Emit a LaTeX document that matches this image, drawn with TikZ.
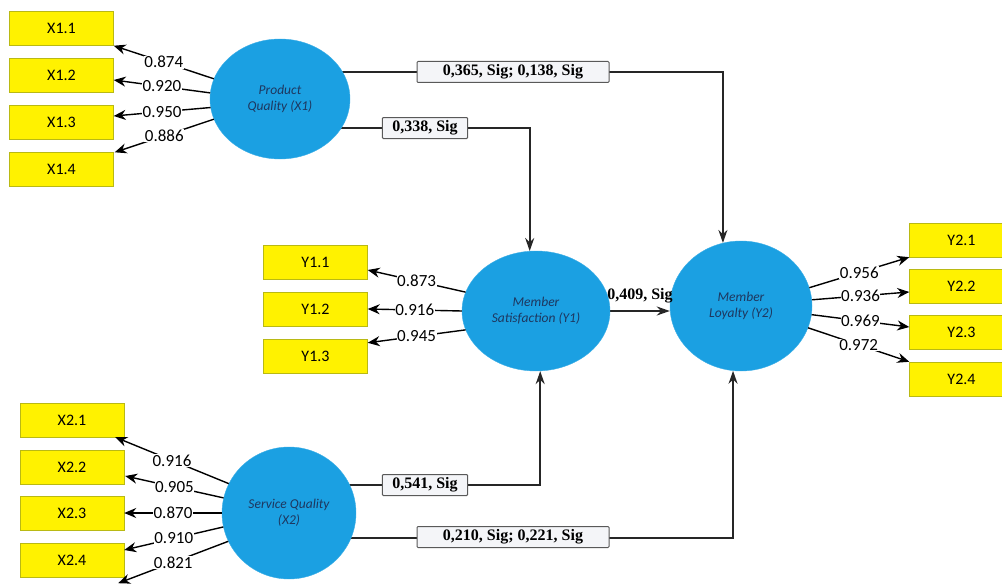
\documentclass[tikz,border=0pt]{standalone}
\usepackage{fontspec}
\setmainfont{Liberation Serif}
\newfontfamily\carl{Carlito}
\usetikzlibrary{arrows.meta,backgrounds,calc,shapes.geometric}
\definecolor{lvblue}{RGB}{27,160,226}
\definecolor{lvtext}{RGB}{30,55,95}
\definecolor{indborder}{RGB}{185,185,20}
\definecolor{pboxfill}{RGB}{244,245,248}
\tikzset{
  ind/.style={draw=indborder, fill=yellow, minimum width=104, minimum height=34, inner sep=0,
    font=\carl\fontsize{16}{16}\selectfont},
  lv/.style={ellipse, fill=lvblue, draw=lvblue!85!white, inner sep=0, align=center,
    text=lvtext, font=\carl\itshape\fontsize{13.5}{16}\selectfont},
  ld/.style={font=\carl\fontsize{17}{17}\selectfont, fill=white, inner sep=0.5pt},
  ldarrow/.style={-{Stealth[length=12pt,width=10pt]}, line width=1.4pt},
  pth/.style={line width=1.8pt, draw=black!85, -{Stealth[length=13pt,width=9pt]}},
  pbox/.style={draw=black!65, line width=1pt, fill=pboxfill, font=\bfseries\fontsize{16}{16}\selectfont,
    minimum height=21, inner xsep=10pt, inner ysep=0pt, rounded corners=1pt},
}
\begin{document}
\begin{tikzpicture}[x=1pt,y=-1pt]
\useasboundingbox (0,0) rectangle (1002,586);

% indicator boxes
\node[ind] (x11) at (61.5,28.5) {X1.1};
\node[ind] (x12) at (61.5,75.5) {X1.2};
\node[ind] (x13) at (61.5,122.5) {X1.3};
\node[ind] (x14) at (61.5,169.5) {X1.4};
\node[ind] (y11) at (315.5,262) {Y1.1};
\node[ind] (y12) at (315.5,309) {Y1.2};
\node[ind] (y13) at (315.5,356) {Y1.3};
\node[ind] (y21) at (961.5,240) {Y2.1};
\node[ind] (y22) at (961.5,286) {Y2.2};
\node[ind] (y23) at (961.5,332) {Y2.3};
\node[ind] (y24) at (961.5,379) {Y2.4};
\node[ind] (x21) at (72,420) {X2.1};
\node[ind] (x22) at (72,467) {X2.2};
\node[ind] (x23) at (72,513) {X2.3};
\node[ind] (x24) at (72,560) {X2.4};

% latent variables
\node[lv, minimum width=140, minimum height=120] (pq) at (280,99) {Product\\Quality (X1)};
\node[lv, minimum width=148, minimum height=120] (ms) at (536,311) {Member\\Satisfaction (Y1)};
\node[lv, minimum width=142, minimum height=130] (ml) at (741,306) {Member\\Loyalty (Y2)};
\node[lv, minimum width=134, minimum height=132] (sq) at (289,513) {Service Quality\\(X2)};

% structural paths (behind the ellipses)
\begin{pgfonlayer}{background}
\draw[pth] ($(pq.center)+(0,-27)$) -| (ml.106);
\draw[pth] ($(pq.center)+(0,29)$) -| (ms.96);
\draw[pth] ($(sq.center)+(0,-28)$) -| (ms.274);
\draw[pth] ($(sq.center)+(0,25)$) -| (ml.263);
\draw[pth] (ms.east) -- (ms.east -| ml.west);
\end{pgfonlayer}

\node[pbox, minimum width=192] (p1) at (513,72) {0,365, Sig; 0,138, Sig};
\node[pbox] (p2) at (425,128) {0,338, Sig};
\node[pbox] (p3) at (425,485) {0,541, Sig};
\node[pbox, minimum width=192] (p4) at (513,537) {0,210, Sig; 0,221, Sig};
\node[font=\bfseries\fontsize{16}{16}\selectfont, inner sep=0] (p5) at (640,296) {0,409, Sig};

% loadings X1
\draw[ldarrow] (pq.163) -- node[ld]{0.874} (x11.south east);
\draw[ldarrow] (pq.175) -- node[ld]{0.920} ($(x12.east)+(0,4.5)$);
\draw[ldarrow] (pq.187) -- node[ld]{0.950} ($(x13.east)+(0,-6.5)$);
\draw[ldarrow] (pq.197) -- node[ld]{0.886} ($(x14.north east)+(1,0)$);

% loadings Y1
\draw[ldarrow] (ms.165) -- node[ld]{0.873} ($(y11.east)+(0,8)$);
\draw[ldarrow] (ms.180) -- node[ld]{0.916} (y12.east);
\draw[ldarrow] (ms.195) -- node[ld]{0.945} ($(y13.north east)+(0,4)$);

% loadings Y2
\draw[ldarrow] (ml.15) -- node[ld]{0.956} (y21.south west);
\draw[ldarrow] (ml.5) -- node[ld]{0.936} ($(y22.west)+(0,6)$);
\draw[ldarrow] (ml.353) -- node[ld]{0.969} ($(y23.west)+(0,-5)$);
\draw[ldarrow] (ml.342) -- node[ld]{0.972} (y24.north west);

% loadings X2
\draw[ldarrow] (sq.154) -- node[ld]{0.916} ($(x21.south east)+(-9,0)$);
\draw[ldarrow] (sq.167) -- node[ld]{0.905} ($(x22.east)+(1,9)$);
\draw[ldarrow] (sq.180) -- node[ld]{0.870} (x23.east);
\draw[ldarrow] (sq.192) -- node[ld]{0.910} ($(x24.east)+(0,-10)$);
\draw[ldarrow] (sq.205) -- node[ld]{0.821} ($(x24.south east)+(-6,6)$);
\end{tikzpicture}
\end{document}
